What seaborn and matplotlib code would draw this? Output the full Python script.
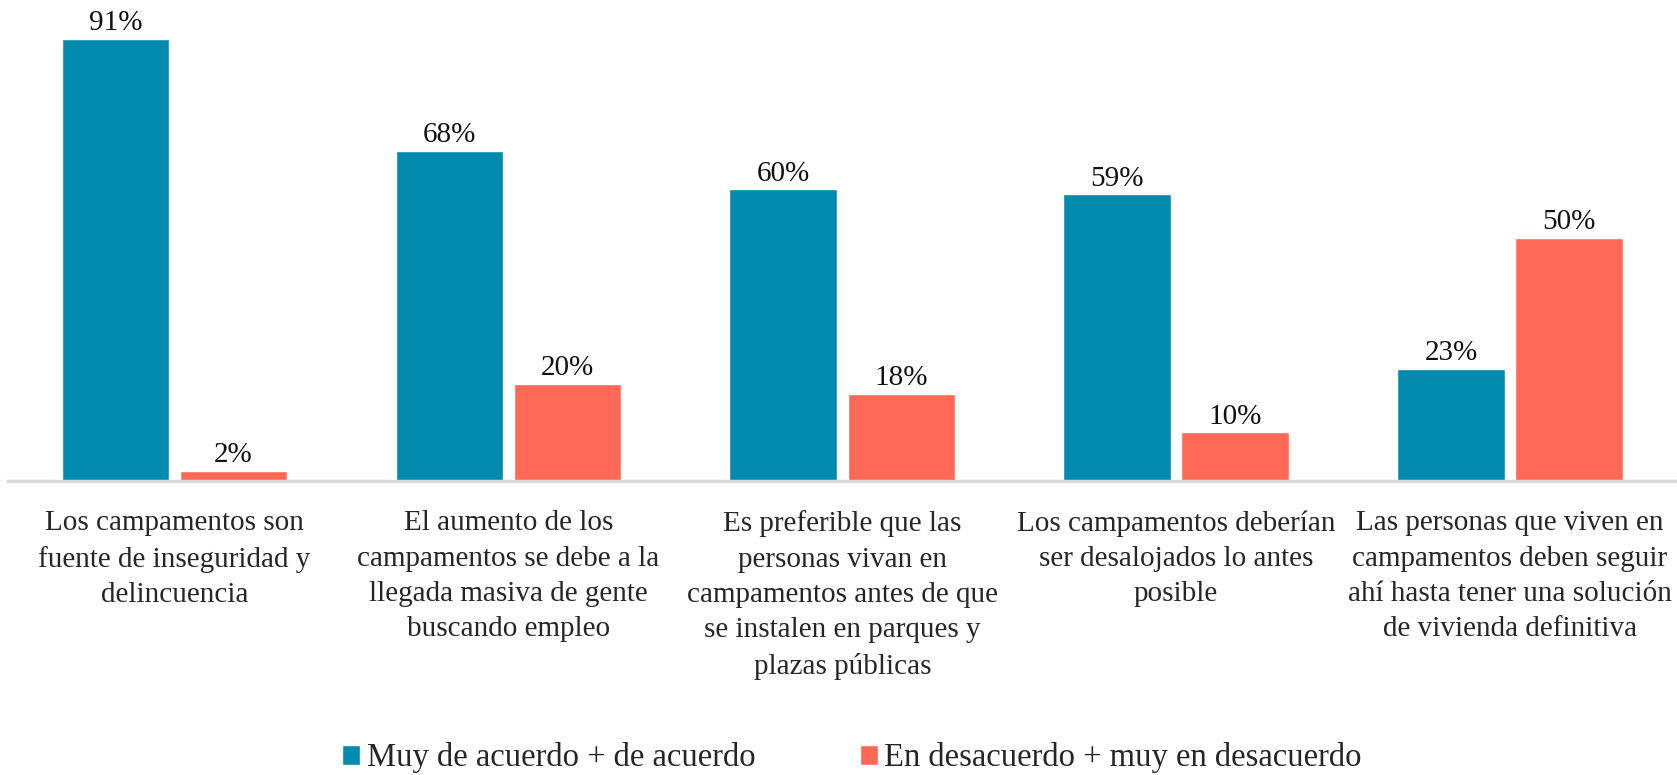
import matplotlib
matplotlib.use("Agg")
import matplotlib.pyplot as plt
import seaborn as sns
import pandas as pd

categories = [
    "Los campamentos son\nfuente de inseguridad y\ndelincuencia",
    "El aumento de los\ncampamentos se debe a la\nllegada masiva de gente\nbuscando empleo",
    "Es preferible que las\npersonas vivan en\ncampamentos antes de que\nse instalen en parques y\nplazas públicas",
    "Los campamentos deberían\nser desalojados lo antes\nposible",
    "Las personas que viven en\ncampamentos deben seguir\nahí hasta tener una solución\nde vivienda definitiva",
]
series_names = ["Muy de acuerdo + de acuerdo", "En desacuerdo + muy en desacuerdo"]
agree = [91, 68, 60, 59, 23]
disagree = [2, 20, 18, 10, 50]
colors = ["#028BAE", "#FF6955"]

df = pd.DataFrame({
    "cat": categories * 2,
    "serie": [series_names[0]] * len(categories) + [series_names[1]] * len(categories),
    "val": agree + disagree,
})

sns.set_theme(style="white")
plt.rcParams["font.family"] = ["Liberation Serif", "DejaVu Serif"]

fig = plt.figure(figsize=(16.77, 7.75), dpi=100)
ax = fig.add_axes([0.0045, 0.3794, 0.9955, 0.6206])

sns.barplot(data=df, x="cat", y="val", hue="serie", order=categories,
            hue_order=series_names, palette=colors, width=0.708, gap=0.09,
            saturation=1, ax=ax, legend=True)

for cont in ax.containers:
    ax.bar_label(cont, labels=[f"{v:.0f}%" for v in cont.datavalues],
                 padding=2, fontsize=21, color="#111111")

ax.set_xlim(-0.5, 4.5)
ax.set_ylim(0, 99)
ax.set_xlabel("")
ax.set_ylabel("")
ax.set_yticks([])
for s in ["top", "right", "left"]:
    ax.spines[s].set_visible(False)
ax.spines["bottom"].set_color("#D9D9D9")
ax.spines["bottom"].set_linewidth(2.5)
ax.tick_params(axis="x", length=0, pad=21, labelsize=21)
for t in ax.get_xticklabels():
    t.set_linespacing(1.47)
    t.set_verticalalignment("top")

leg = ax.legend(loc="center", bbox_to_anchor=(0.508, 0.022), bbox_transform=fig.transFigure,
                ncol=2, frameon=False, fontsize=23.5, handlelength=0.55, handleheight=0.55,
                handletextpad=0.2, columnspacing=3.2, borderaxespad=0)

fig.savefig("out.png", dpi=100)
